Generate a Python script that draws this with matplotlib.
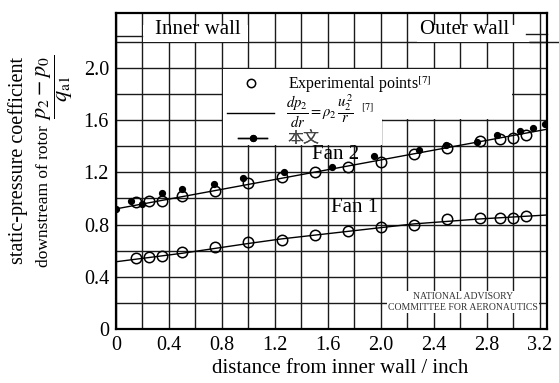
import numpy as np
import matplotlib
matplotlib.use('Agg')
from matplotlib import pyplot as plt
from matplotlib.lines import Line2D
from matplotlib.patches import Rectangle, Polygon

plt.rcParams['font.family'] = ['Liberation Serif', 'Noto Sans CJK SC']
plt.rcParams['mathtext.fontset'] = 'stix'

# experimental points (circles), nominal stations in inches
exp_x = [0.15, 0.25, 0.35, 0.5, 0.75, 1.0, 1.25, 1.5, 1.75, 2.0, 2.25, 2.5, 2.75, 2.9, 3.0, 3.1]
fan1_exp = [0.544, 0.554, 0.562, 0.587, 0.626, 0.669, 0.684, 0.723, 0.753, 0.784, 0.80,
            0.843, 0.848, 0.85, 0.848, 0.864]
fan2_exp = [0.971, 0.979, 0.983, 1.02, 1.06, 1.116, 1.162, 1.205, 1.239, 1.277, 1.341,
            1.385, 1.443, 1.456, 1.461, 1.487]

# radial equilibrium curves [7]
fan1_line_x = [0, 0.5, 1.0, 1.25, 2.25, 2.75, 3.255]
fan1_line_y = [0.515, 0.58, 0.655, 0.69, 0.805, 0.843, 0.873]
fan2_line_x = [0, 3.255]
fan2_line_y = [0.92, 1.53]

# this paper (dots), fan 2 only
paper_x = [0.0, 0.11, 0.2, 0.35, 0.5, 0.74, 0.96, 1.27, 1.63, 1.95, 2.29, 2.49, 2.73,
           2.88, 3.05, 3.15, 3.24]
paper_y = [0.92, 0.983, 0.958, 1.04, 1.073, 1.111, 1.157, 1.205, 1.239, 1.328, 1.374,
           1.41, 1.43, 1.489, 1.52, 1.538, 1.571]

xticks = [0, 0.4, 0.8, 1.2, 1.6, 2.0, 2.4, 2.8, 3.2]
xtick_labels = ['0', '0.4', '0.8', '1.2', '1.6', '2.0', '2.4', '2.8', '3.2']
yticks = [0, 0.4, 0.8, 1.2, 1.6, 2.0]
ytick_labels = ['0', '0.4', '0.8', '1.2', '1.6', '2.0']

fig = plt.figure(figsize=(5.59, 3.83), dpi=100)
ax = fig.add_axes([0.2075, 0.141, 0.771, 0.825])
ax.set_xlim(0, 3.255)
ax.set_ylim(0, 2.42)

ax.set_xticks(xticks)
ax.set_xticklabels(xtick_labels)
ax.set_xticks(np.arange(0.2, 3.1, 0.4), minor=True)
ax.set_yticks(yticks)
ax.set_yticklabels(ytick_labels)
ax.set_yticks(np.arange(0.2, 2.3, 0.4), minor=True)
ax.tick_params(which='both', length=0)
ax.tick_params(axis='x', labelsize=14.5, pad=5)
ax.tick_params(axis='y', labelsize=14.5, pad=5)
ax.set_axisbelow(True)
ax.grid(which='both', color='#1a1a1a', lw=1.0)
for s in ax.spines.values():
    s.set_linewidth(1.6)

# white areas in the grid behind labels and legend
ax.add_patch(Rectangle((0.205, 2.195), 0.79, 0.135, fc='white', ec='none', zorder=1))
ax.add_patch(Rectangle((2.27, 2.195), 0.85, 0.135, fc='white', ec='none', zorder=1))
ax.add_patch(Polygon([(0.806, 1.994), (2.994, 1.994), (2.994, 1.606), (2.006, 1.606),
                      (2.006, 1.406), (0.806, 1.406)], closed=True, fc='white', ec='none',
                     zorder=1))

# wall marks
ax.plot([0, 0.2], [2.245, 2.245], color='#1a1a1a', lw=1.0, zorder=2)
ax.plot([3.1, 3.255], [2.26, 2.26], color='#1a1a1a', lw=1.0, zorder=2, clip_on=False)
ax.plot([3.13, 3.35], [2.2, 2.2], color='#1a1a1a', lw=1.0, zorder=2, clip_on=False)

ax.plot(fan1_line_x, fan1_line_y, color='black', lw=1.0, zorder=3)
ax.plot(fan2_line_x, fan2_line_y, color='black', lw=1.0, zorder=3)
ax.plot(exp_x, fan1_exp, 'o', ms=7.5, mfc='none', mec='black', mew=1.1, zorder=4)
ax.plot(exp_x, fan2_exp, 'o', ms=7.5, mfc='none', mec='black', mew=1.1, zorder=4)
ax.plot(paper_x, paper_y, 'o', ms=4.2, color='black', zorder=5)

ax.text(0.62, 2.29, 'Inner wall', fontsize=15, ha='center', va='center', zorder=6)
ax.text(2.63, 2.29, 'Outer wall', fontsize=15, ha='center', va='center', zorder=6)
ax.text(1.66, 1.335, 'Fan 2', fontsize=15, ha='center', va='center', zorder=6)
ax.text(1.8, 0.93, 'Fan 1', fontsize=15, ha='center', va='center', zorder=6)
ax.text(2.62, 0.205, 'NATIONAL ADVISORY\nCOMMITTEE FOR AERONAUTICS', fontsize=7,
        ha='center', va='center', color='#333333', linespacing=1.25, zorder=6,
        bbox=dict(fc='white', ec='none', pad=1))

# legend: one small legend per row so the rows sit where they are in the original
rows = [
    (Line2D([], [], ls='none', marker='o', ms=6, mfc='none', mec='black', mew=1.1),
     'Experimental points$^{\\rm [7]}$', 11.5, 0.84, 1.872, 3.0, 0.8),
    (Line2D([], [], color='black', lw=1.0),
     '$\\dfrac{dp_2}{dr}=\\rho_2\\,\\dfrac{u_2^2}{r}$  $^{\\rm [7]}$', 10.5, 0.84, 1.664, 3.2, 0.8),
    (Line2D([], [], color='black', lw=1.0, marker='o', ms=4.2),
     '本文', 11.5, 0.923, 1.452, 1.8, 1.3),
]
for h, lab, fs, lx, ly, hl, tp in rows:
    lg = ax.legend([h], [lab], loc='center left', bbox_to_anchor=(lx, ly),
                   bbox_transform=ax.transData, frameon=False, fontsize=fs,
                   handlelength=hl, handletextpad=tp, borderpad=0, borderaxespad=0)
    if lab == '本文':
        lg.get_texts()[0].set_color('#444444')
    ax.add_artist(lg)

fig.text(0.032, 0.582, 'static-pressure coefficient', rotation=90, fontsize=14.5,
         ha='center', va='center')
fig.text(0.0796, 1 - 196.5 / 383, 'downstream of rotor', rotation=90, fontsize=12.5,
         ha='center', va='center')
fig.text(0.0975, 1 - 87.5 / 383, '$\\dfrac{p_2-p_0}{q_{\\rm a1}}$', rotation=90,
         fontsize=16, ha='center', va='center')
fig.text(0.608, 0.039, 'distance from inner wall / inch', fontsize=15, ha='center',
         va='center')

fig.savefig('out.png', dpi=100)
